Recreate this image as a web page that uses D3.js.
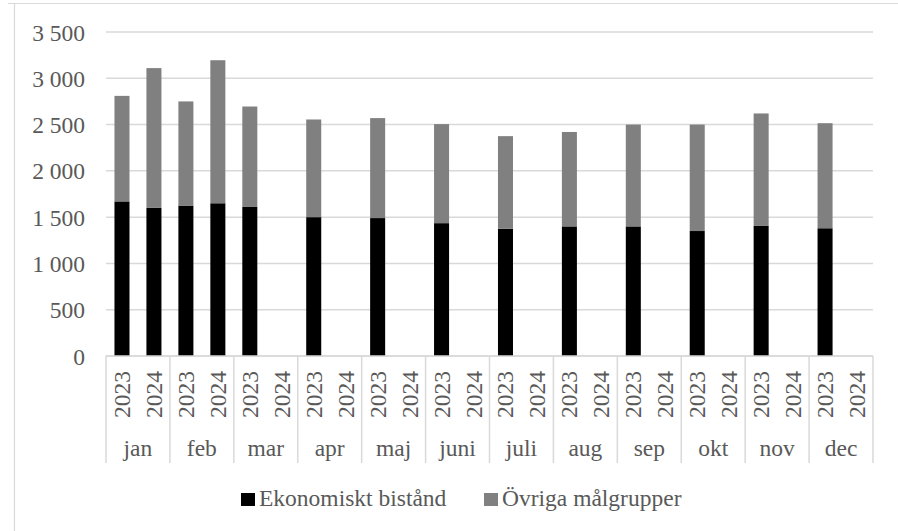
<!DOCTYPE html>
<html>
<head>
<meta charset="utf-8">
<script src="https://cdn.jsdelivr.net/npm/d3@7"></script>
<style>
  body { margin: 0; background: #fff; }
  svg text { font-family: "Liberation Serif", "Times New Roman", serif; fill: #595959; }
</style>
</head>
<body>
<div id="chart"></div>
<script>
// data
var months = ["jan", "feb", "mar", "apr", "maj", "juni", "juli", "aug", "sep", "okt", "nov", "dec"];
var years = ["2023", "2024"];
var ekonomiskt2023 = [1670, 1625, 1610, 1500, 1490, 1435, 1375, 1400, 1400, 1350, 1405, 1380];
var ovriga2023 = [1140, 1125, 1085, 1055, 1080, 1070, 1000, 1020, 1100, 1150, 1215, 1135];
var ekonomiskt2024 = [1600, 1650];
var ovriga2024 = [1510, 1545];
var yTicks = [0, 500, 1000, 1500, 2000, 2500, 3000, 3500];
var seriesNames = ["Ekonomiskt bistånd", "Övriga målgrupper"];
var seriesColors = ["#000000", "#808080"];

var W = 898, H = 531;
var margin = {top: 32, right: 25, bottom: 175, left: 106},
    width = W - margin.left - margin.right,
    height = H - margin.top - margin.bottom;

// rows for stacking
var rows = [];
months.forEach(function(m, i) {
    rows.push({month: m, year: "2023", eko: ekonomiskt2023[i], ovr: ovriga2023[i]});
    if (i < ekonomiskt2024.length) {
        rows.push({month: m, year: "2024", eko: ekonomiskt2024[i], ovr: ovriga2024[i]});
    }
});

var stack = d3.stack().keys(["eko", "ovr"]);
var stacked = stack(rows);

var x0 = d3.scaleBand().domain(months).range([0, width]);
var x1 = d3.scaleBand().domain(years).range([0, x0.bandwidth()]);
var y = d3.scaleLinear().domain([0, 3500]).range([height, 0]);
var barW = x1.bandwidth() * 0.47;

var fmt = d3.formatLocale({decimal: ",", thousands: "\u00a0", grouping: [3], currency: ["", " kr"]}).format(",d");

var svg = d3.select("#chart").append("svg")
    .attr("width", W)
    .attr("height", H);

// outer frame
svg.append("line").attr("x1", 8).attr("x2", W).attr("y1", 3.5).attr("y2", 3.5)
    .attr("stroke", "#d9d9d9").attr("stroke-width", 1.2);
svg.append("line").attr("x1", 14.5).attr("x2", 14.5).attr("y1", 3).attr("y2", H)
    .attr("stroke", "#d9d9d9").attr("stroke-width", 1.2);

var g = svg.append("g")
    .attr("transform", "translate(" + margin.left + "," + margin.top + ")");

// gridlines
g.append("g")
    .selectAll("line")
    .data(yTicks)
    .enter().append("line")
    .attr("x1", 0)
    .attr("x2", width)
    .attr("y1", function(d) { return y(d); })
    .attr("y2", function(d) { return y(d); })
    .attr("stroke", "#d9d9d9")
    .attr("stroke-width", 1.5);

// y axis
var yAxis = d3.axisLeft(y).tickValues(yTicks).tickSize(0).tickPadding(21).tickFormat(fmt);
var ya = g.append("g").call(yAxis);
ya.select(".domain").remove();
ya.selectAll("text")
    .style("font-family", "'Liberation Serif', 'Times New Roman', serif")
    .style("font-size", "23.5px")
    .attr("fill", "#595959")
    .attr("dy", "0.34em");

// bars
g.append("g")
    .selectAll("g")
    .data(stacked)
    .enter().append("g")
    .attr("fill", function(d, i) { return seriesColors[i]; })
    .selectAll("rect")
    .data(function(d) { return d; })
    .enter().append("rect")
    .attr("x", function(d) { return x0(d.data.month) + x1(d.data.year) + (x1.bandwidth() - barW) / 2; })
    .attr("width", barW)
    .attr("y", function(d) { return y(d[1]); })
    .attr("height", function(d) { return y(d[0]) - y(d[1]); });

// category axis line and separators
g.append("line")
    .attr("x1", 0).attr("x2", width)
    .attr("y1", height).attr("y2", height)
    .attr("stroke", "#d9d9d9").attr("stroke-width", 1.5);

g.append("g")
    .selectAll("line")
    .data(months.concat(["_end"]))
    .enter().append("line")
    .attr("x1", function(d, i) { return i * x0.step(); })
    .attr("x2", function(d, i) { return i * x0.step(); })
    .attr("y1", height)
    .attr("y2", height + 107)
    .attr("stroke", "#d9d9d9")
    .attr("stroke-width", 1.5);

// year labels
var yearLabels = [];
months.forEach(function(m) {
    years.forEach(function(yr) { yearLabels.push({month: m, year: yr}); });
});
g.append("g")
    .selectAll("text")
    .data(yearLabels)
    .enter().append("text")
    .attr("transform", function(d) {
        var cx = x0(d.month) + x1(d.year) + x1.bandwidth() / 2;
        return "translate(" + cx + "," + (height + 15) + ") rotate(-90)";
    })
    .attr("text-anchor", "end")
    .attr("dy", "0.34em")
    .style("font-size", "23.5px")
    .text(function(d) { return d.year; });

// month labels
g.append("g")
    .selectAll("text")
    .data(months)
    .enter().append("text")
    .attr("x", function(d) { return x0(d) + x0.bandwidth() / 2; })
    .attr("y", height + 100)
    .attr("text-anchor", "middle")
    .style("font-size", "23.5px")
    .text(function(d) { return d; });

// legend
var legendX = [241, 484];
var legend = svg.append("g")
    .selectAll("g")
    .data(seriesNames)
    .enter().append("g")
    .attr("transform", function(d, i) { return "translate(" + legendX[i] + ",493)"; });
legend.append("rect")
    .attr("width", 14)
    .attr("height", 13)
    .attr("fill", function(d, i) { return seriesColors[i]; });
legend.append("text")
    .attr("x", 18)
    .attr("y", 13)
    .style("font-size", "23.5px")
    .text(function(d) { return d; });
</script>
</body>
</html>
